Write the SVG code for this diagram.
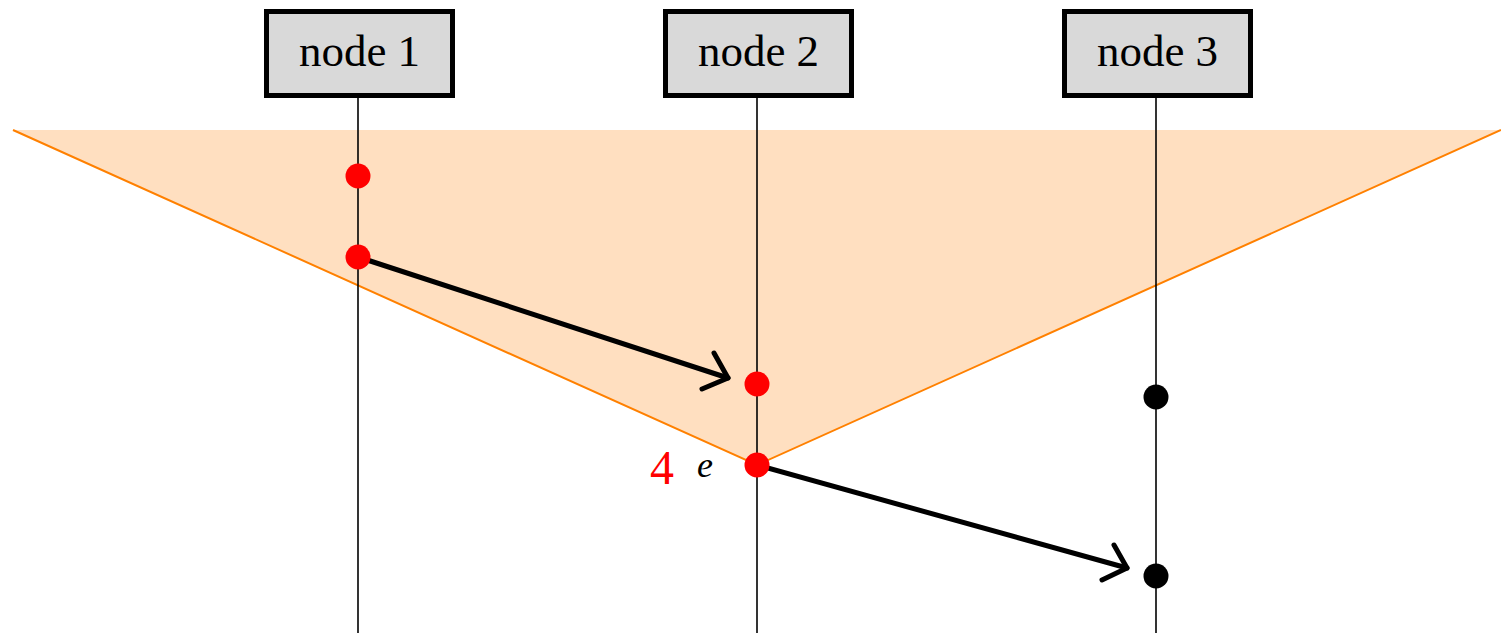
<svg xmlns="http://www.w3.org/2000/svg" width="1501" height="633" viewBox="0 0 1501 633">
<style>
.box{fill:#d9d9d9;stroke:#000;stroke-width:5}
.lbl{font-family:"Liberation Serif",serif;font-size:45px;text-anchor:middle}
.life{stroke:#000;stroke-width:1.6;fill:none}
.msg{stroke:#000;stroke-width:5;fill:none;stroke-linecap:round}
.head{stroke:#000;stroke-width:5;fill:none;stroke-linecap:round;stroke-linejoin:round}
.red{fill:#ff0000}
.blk{fill:#000}
</style>
<g id="cone">
<polygon points="13,130 1501,130 757,465" fill="#ffdfc0"/>
<polyline points="13,130 757,465 1501,130" fill="none" stroke="#ff8000" stroke-width="2"/>
</g>
<g id="lifelines">
<line class="life" x1="358" y1="96" x2="358" y2="633"/>
<line class="life" x1="757" y1="96" x2="757" y2="633"/>
<line class="life" x1="1156" y1="96" x2="1156" y2="633"/>
</g>
<g id="node1"><rect class="box" x="266.5" y="11.5" width="186" height="84"/><text class="lbl" x="359.5" y="66">node 1</text></g>
<g id="node2"><rect class="box" x="665.5" y="11.5" width="186" height="84"/><text class="lbl" x="758.5" y="66">node 2</text></g>
<g id="node3"><rect class="box" x="1064.5" y="11.5" width="186" height="84"/><text class="lbl" x="1157.5" y="66">node 3</text></g>
<g id="connectors">
<line class="msg" x1="358" y1="257" x2="728" y2="378"/>
<polyline class="head" points="714,353 728,378 702,389"/>
<line class="msg" x1="757" y1="465" x2="1127" y2="568"/>
<polyline class="head" points="1114,545 1127,568 1102,580"/>
</g>
<g id="events">
<circle class="red" cx="358" cy="176" r="12.5"/>
<circle class="red" cx="358" cy="257" r="12.5"/>
<circle class="red" cx="757" cy="384" r="12.5"/>
<circle class="red" cx="757" cy="465" r="12.5"/>
<circle class="blk" cx="1156" cy="397" r="12.5"/>
<circle class="blk" cx="1156" cy="576" r="12.5"/>
</g>
<g id="labels">
<text x="662" y="484" font-family="'Liberation Serif',serif" font-size="48" fill="#ff0000" text-anchor="middle">4</text>
<text x="705" y="477" font-family="'Liberation Serif',serif" font-size="36" font-style="italic" text-anchor="middle">e</text>
</g>
</svg>
